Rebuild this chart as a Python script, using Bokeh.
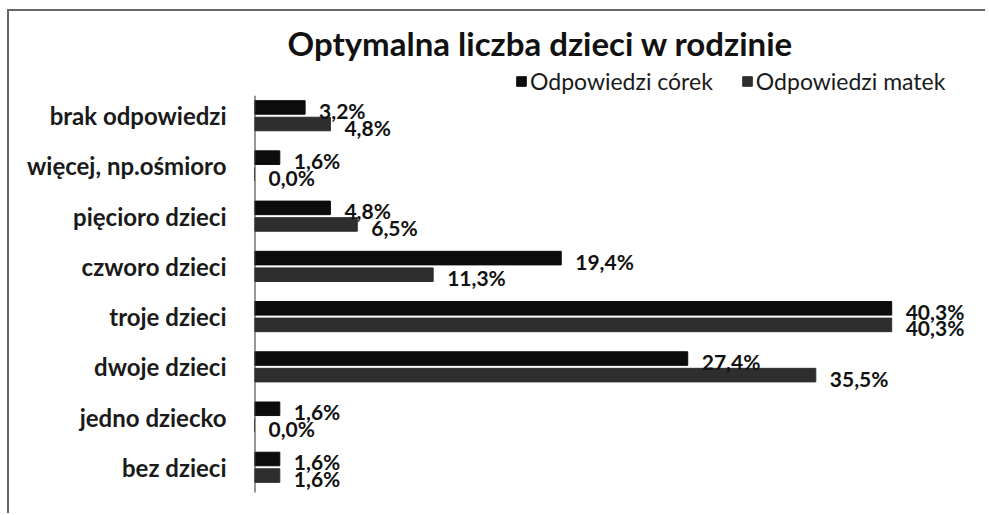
from bokeh.plotting import figure
from bokeh.models import FactorRange, ColumnDataSource, LabelSet, Legend, LegendItem
from bokeh.transform import dodge
from bokeh.core.properties import value
from bokeh.embed import file_html
from bokeh.resources import INLINE

title_text = "Optymalna liczba dzieci w rodzinie"
categories = ["bez dzieci", "jedno dziecko", "dwoje dzieci", "troje dzieci",
              "czworo dzieci", "pięcioro dzieci", "więcej, np.ośmioro", "brak odpowiedzi"]
corki = [1.6, 1.6, 27.4, 40.3, 19.4, 4.8, 1.6, 3.2]
matki = [1.6, 0.0, 35.5, 40.3, 11.3, 6.5, 0.0, 4.8]
series_names = ["Odpowiedzi córek", "Odpowiedzi matek"]

def fmt(v):
    return ("%.1f" % v).replace(".", ",") + "%"

src = ColumnDataSource(dict(
    cat=categories, corki=corki, matki=matki,
    corki_lbl=[fmt(v) for v in corki], matki_lbl=[fmt(v) for v in matki],
))
axis_src = ColumnDataSource(dict(first=[categories[0]], last=[categories[-1]]))

FONT = "Lato"
yr = FactorRange(*categories, range_padding=0.46, range_padding_units="absolute")
p = figure(y_range=yr, x_range=(0, 45.6),
           width=978, height=504, output_backend="svg", toolbar_location=None,
           x_axis_location=None, min_border_left=245, min_border_right=12,
           min_border_top=56, min_border_bottom=0,
           background_fill_color="#ffffff", border_fill_color="#ffffff")
p.styles = {"border-top": "2px solid #666666", "border-left": "2px solid #666666",
            "margin-left": "7px", "margin-top": "9px"}
p.outline_line_color = None
p.xgrid.visible = False
p.ygrid.visible = False

c1 = "#0c0c0c"
c2 = "#2e2e2e"
r1 = p.hbar(y=dodge("cat", 0.165, range=yr), right="corki", left=0, height=0.27,
            source=src, fill_color=c1, line_color=c1)
r2 = p.hbar(y=dodge("cat", -0.165, range=yr), right="matki", left=0, height=0.27,
            source=src, fill_color=c2, line_color=c2)

# axis line spanning only the category bands
p.segment(x0=0, x1=0, y0=dodge("first", -0.5, range=yr), y1=dodge("last", 0.4, range=yr),
          source=axis_src, line_color="#333333", line_width=2)

for col, off in (("corki", 0.165), ("matki", -0.165)):
    ls = LabelSet(x=col, y=dodge("cat", off, range=yr), text=col + "_lbl",
                  source=src, x_offset=14, y_offset=-3, text_baseline="middle",
                  text_font=value(FONT), text_font_style="bold", text_font_size="21px",
                  text_color="#111111")
    p.add_layout(ls)

ax = p.yaxis[0]
ax.axis_line_color = None
ax.major_tick_line_color = None
ax.minor_tick_line_color = None
ax.major_label_standoff = 22
ax.major_label_text_font = FONT
ax.major_label_text_font_style = "bold"
ax.major_label_text_font_size = "24px"
ax.major_label_text_color = "#1a1a1a"

legend = Legend(items=[LegendItem(label=series_names[0], renderers=[r1]),
                       LegendItem(label=series_names[1], renderers=[r2])],
                orientation="horizontal", location=(261, 420),
                label_text_font=FONT, label_text_font_size="23px",
                label_text_color="#1a1a1a", glyph_width=12, glyph_height=12,
                label_standoff=3, spacing=28, padding=0, margin=0,
                border_line_color=None, background_fill_alpha=0)
p.add_layout(legend)

p.title.text = title_text
p.title.text_font = FONT
p.title.text_font_style = "bold"
p.title.text_font_size = "33px"
p.title.text_color = "#111111"
p.title.align = "left"
p.title.offset = 33

open("out.html", "w").write(file_html(p, INLINE))
